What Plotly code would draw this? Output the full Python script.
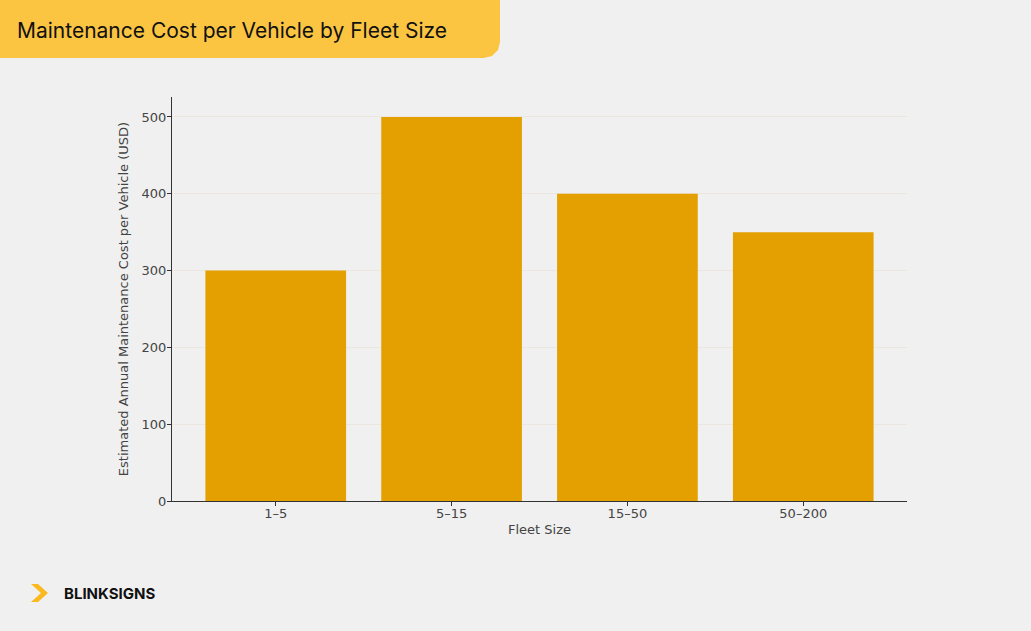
import plotly.graph_objects as go

fleet_sizes = ["1–5", "5–15", "15–50", "50–200"]
costs = [300, 500, 400, 350]

W, H = 1031, 631
L, R, T, B = 172, 907, 97, 501

fig = go.Figure()
fig.add_trace(go.Bar(x=fleet_sizes, y=costs, marker_color="#e3a000",
                     marker_line_width=0, width=0.8))

fig.update_layout(
    width=W, height=H,
    paper_bgcolor="#f0f0f0", plot_bgcolor="#f0f0f0",
    margin=dict(l=L, r=W - R, t=T, b=H - B, pad=0),
    showlegend=False,
    font=dict(family="DejaVu Sans", size=13, color="#444"),
    xaxis=dict(range=[-0.59, 3.59], showline=True, linecolor="#333", linewidth=1,
               ticks="outside", ticklen=4, tickcolor="#333", showgrid=False,
               ticklabelstandoff=-4,
               title=dict(text="Fleet Size", font=dict(size=13, color="#444"), standoff=5)),
    yaxis=dict(range=[0, 526], showline=True, linecolor="#333", linewidth=1,
               ticks="outside", ticklen=4, tickcolor="#333", tickvals=[0, 100, 200, 300, 400, 500],
               gridcolor="#ebe6df", zeroline=False, ticklabelstandoff=-2,
               title=dict(text="Estimated Annual Maintenance Cost per Vehicle (USD)",
                          font=dict(size=13, color="#444"), standoff=10)),
)

# pixel position -> paper coords
def px(x, y):
    return (x - L) / (R - L), (B - y) / (B - T)

# title banner
pts = [(0, 0), (500, 0), (500, 42), (498, 50), (492, 56), (484, 58), (0, 58)]
path = "M " + " L ".join(f"{px(x, y)[0]:.5f},{px(x, y)[1]:.5f}" for x, y in pts) + " Z"
fig.add_shape(type="path", xref="paper", yref="paper", path=path,
              fillcolor="#fbc542", line_width=0, layer="above")
fig.add_annotation(xref="paper", yref="paper", x=px(15, 30)[0], y=px(15, 30)[1],
                   text="Maintenance Cost per Vehicle by Fleet Size", showarrow=False,
                   xanchor="left", yanchor="middle",
                   font=dict(family="Inter", size=21, color="#111"))

# logo chevron
chev = [(31, 584), (38, 584), (48, 593), (38, 602), (31, 602), (41, 593)]
path2 = "M " + " L ".join(f"{px(x, y)[0]:.5f},{px(x, y)[1]:.5f}" for x, y in chev) + " Z"
fig.add_shape(type="path", xref="paper", yref="paper", path=path2,
              fillcolor="#fbb920", line_width=0)
fig.add_annotation(xref="paper", yref="paper", x=px(62, 593)[0], y=px(62, 593)[1],
                   text="<b>BLINKSIGNS</b>", showarrow=False, xanchor="left", yanchor="middle",
                   font=dict(family="Inter", size=15, color="#111"))

fig.write_html("out.html", config={"displayModeBar": False},
               post_script="document.body.style.margin='0';")
